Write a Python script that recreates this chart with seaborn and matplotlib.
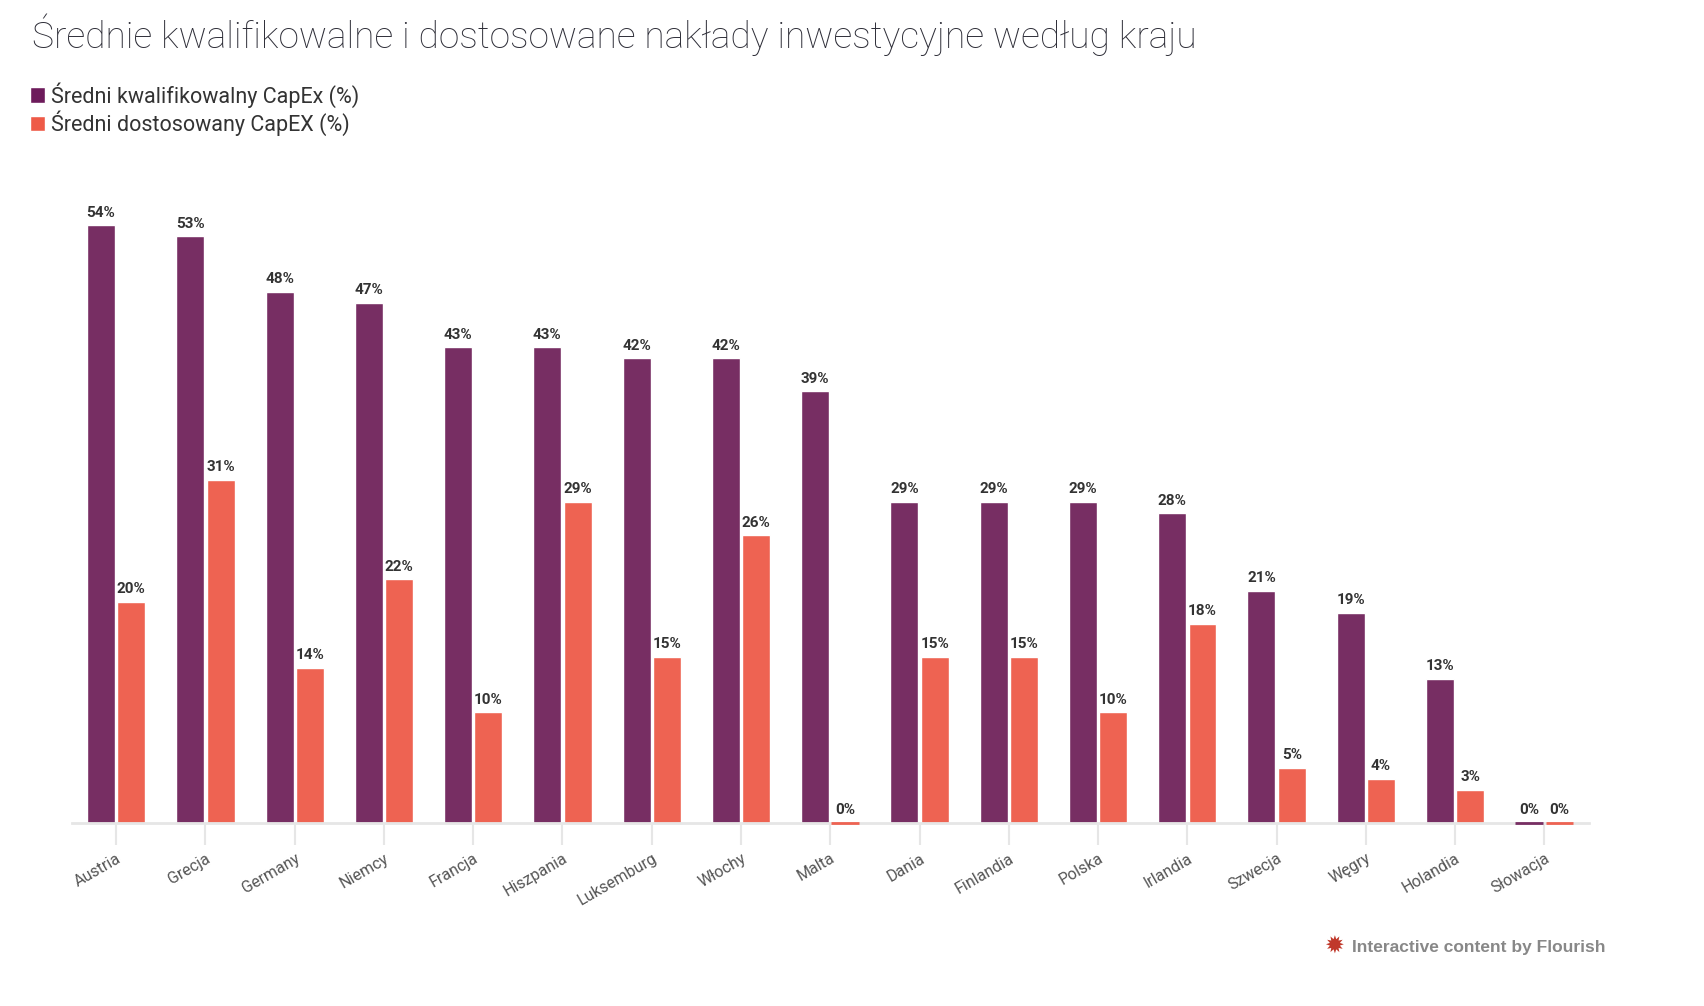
import matplotlib
matplotlib.use("Agg")
import matplotlib.pyplot as plt
from matplotlib.patches import Patch
import seaborn as sns
import pandas as pd

countries = ["Austria", "Grecja", "Germany", "Niemcy", "Francja", "Hiszpania",
             "Luksemburg", "Włochy", "Malta", "Dania", "Finlandia", "Polska",
             "Irlandia", "Szwecja", "Węgry", "Holandia", "Słowacja"]
eligible = [54, 53, 48, 47, 43, 43, 42, 42, 39, 29, 29, 29, 28, 21, 19, 13, 0]
aligned = [20, 31, 14, 22, 10, 29, 15, 26, 0, 15, 15, 10, 18, 5, 4, 3, 0]
series_names = ["Średni kwalifikowalny CapEx (%)", "Średni dostosowany CapEX (%)"]

title = "Średnie kwalifikowalne i dostosowane nakłady inwestycyjne według kraju"
footer = "Interactive content by Flourish"

purple = "#772e63"
orange = "#ee6352"

df = pd.DataFrame({
    "Kraj": countries * 2,
    "Seria": [series_names[0]] * len(countries) + [series_names[1]] * len(countries),
    "Wartość": eligible + aligned,
})

sns.set_theme(style="white")
plt.rcParams["font.family"] = ["Roboto", "DejaVu Sans"]

fig = plt.figure(figsize=(17.04, 10.06), dpi=100)
ax = fig.add_axes([0.042, 0.182, 0.8905, 0.66])

sns.barplot(data=df, x="Kraj", y="Wartość", hue="Seria", palette=[purple, orange],
            width=0.68, gap=0.08, saturation=1, legend=False, ax=ax, errorbar=None)

# zero bars show as a thin line on the baseline
for cont, col in zip(ax.containers, [purple, orange]):
    for p in cont.patches:
        if p.get_height() == 0:
            p.set_edgecolor(col)
            p.set_linewidth(2)
            p.set_zorder(5)
            p.set_clip_on(False)
    vals = [p.get_height() for p in cont.patches]
    ax.bar_label(cont, labels=[f"{v:.0f}%" for v in vals], padding=4,
                 fontsize=11, fontweight="bold", color="#333333")

ax.set_xlim(-0.5, len(countries) - 0.5)
ax.set_ylim(0, 60)
ax.set_xlabel("")
ax.set_ylabel("")
ax.set_yticks([])
for s in ["top", "right", "left"]:
    ax.spines[s].set_visible(False)
ax.spines["bottom"].set_color("#e6e6e6")
ax.spines["bottom"].set_linewidth(2)
ax.spines["bottom"].set_zorder(1)
ax.tick_params(axis="x", length=16, width=1.5, color="#e6e6e6", pad=4,
               labelsize=11.5, labelcolor="#555555", bottom=True)
for lab in ax.get_xticklabels():
    lab.set_rotation(30)
    lab.set_ha("right")
    lab.set_rotation_mode("anchor")

fig.text(0.019, 0.952, title, fontsize=26.7, color="#2e2e38", fontweight="light",
         va="baseline", ha="left")

handles = [Patch(facecolor="#6d1b5b"), Patch(facecolor="#ee5a47")]
fig.legend(handles, series_names, loc="upper left", bbox_to_anchor=(0.0125, 0.927),
           frameon=False, fontsize=15.5, handlelength=0.7, handleheight=0.7,
           handletextpad=0.3, labelspacing=0.15, borderaxespad=0,
           labelcolor="#333333")

fig.text(0.942, 0.054, footer, fontsize=12.5, fontweight="bold", color="#888888",
         ha="right", va="baseline", family=["Liberation Sans", "DejaVu Sans"])
fig.text(0.7885, 0.052, "✹", fontsize=17, color="#c0392b", ha="right", va="baseline",
         family=["DejaVu Sans"])

fig.savefig("out.png", dpi=100, facecolor="white")
